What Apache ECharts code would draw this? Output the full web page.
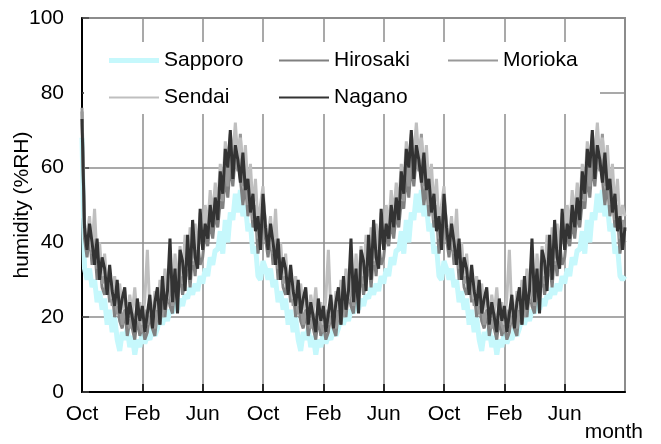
<!DOCTYPE html>
<html>
<head>
<meta charset="utf-8">
<title>humidity</title>
<script src="https://cdn.jsdelivr.net/npm/echarts@6/dist/echarts.min.js"></script>
<style>
  html, body { margin: 0; padding: 0; background: #fff; }
  #chart { width: 661px; height: 444px; }
</style>
</head>
<body>
<div id="chart"></div>
<script>
// samples every 1/6 month, starting at Oct 1, three years
const STEP = 6
const monthTicks = ['Oct', 'Feb', 'Jun', 'Oct', 'Feb', 'Jun', 'Oct', 'Feb', 'Jun']
const cities = ['Sapporo', 'Hirosaki', 'Morioka', 'Sendai', 'Nagano']

const sapporo = [
  68, 33, 30, 33, 28, 30, 24, 27, 22, 25, 18, 22, 16, 20, 14, 11, 16, 14, 17, 12, 15, 10, 14, 12,
  16, 13, 15, 14, 17, 15, 17, 20, 18, 21, 19, 22, 21, 24, 22, 25, 23, 26, 25, 28, 26, 29, 27, 31,
  29, 33, 31, 36, 34, 38, 38, 43, 37, 46, 40, 48, 46, 53, 48, 54, 47, 50, 43, 45, 37, 39, 31, 30,
  35, 33, 30, 33, 28, 30, 24, 27, 22, 25, 18, 22, 16, 20, 14, 11, 16, 14, 17, 12, 15, 10, 14, 12,
  16, 13, 15, 14, 17, 15, 17, 20, 18, 21, 19, 22, 21, 24, 22, 25, 23, 26, 25, 28, 26, 29, 27, 31,
  29, 33, 31, 36, 34, 38, 38, 43, 37, 46, 40, 48, 46, 53, 48, 54, 47, 50, 43, 45, 37, 39, 31, 30,
  35, 33, 30, 33, 28, 30, 24, 27, 22, 25, 18, 22, 16, 20, 14, 11, 16, 14, 17, 12, 15, 10, 14, 12,
  16, 13, 15, 14, 17, 15, 17, 20, 18, 21, 19, 22, 21, 24, 22, 25, 23, 26, 25, 28, 26, 29, 27, 31,
  29, 33, 31, 36, 34, 38, 38, 43, 37, 46, 40, 48, 46, 53, 48, 54, 47, 50, 43, 45, 37, 39, 31, 30,
  31
]
const hirosaki = [
  75, 41, 36, 42, 34, 39, 30, 35, 28, 26, 31, 24, 27, 20, 24, 19, 17, 22, 15, 19, 17, 14, 20, 15,
  18, 14, 16, 21, 17, 15, 22, 18, 24, 20, 27, 23, 21, 29, 25, 32, 26, 30, 35, 28, 37, 31, 40, 34,
  36, 43, 39, 46, 41, 48, 44, 51, 49, 58, 52, 61, 55, 63, 66, 57, 50, 56, 47, 52, 44, 48, 37, 42,
  50, 41, 36, 42, 34, 39, 30, 35, 28, 26, 31, 24, 27, 20, 24, 19, 17, 22, 15, 19, 17, 14, 20, 15,
  18, 14, 16, 21, 17, 15, 22, 18, 24, 20, 27, 23, 21, 29, 25, 32, 26, 30, 35, 28, 37, 31, 40, 34,
  36, 43, 39, 46, 41, 48, 44, 51, 49, 58, 52, 61, 55, 63, 66, 57, 50, 56, 47, 52, 44, 48, 37, 42,
  50, 41, 36, 42, 34, 39, 30, 35, 28, 26, 31, 24, 27, 20, 24, 19, 17, 22, 15, 19, 17, 14, 20, 15,
  18, 14, 16, 21, 17, 15, 22, 18, 24, 20, 27, 23, 21, 29, 25, 32, 26, 30, 35, 28, 37, 31, 40, 34,
  36, 43, 39, 46, 41, 48, 44, 51, 49, 58, 52, 61, 55, 63, 66, 57, 50, 56, 47, 52, 44, 48, 37, 42,
  40
]
const morioka = [
  76, 45, 39, 43, 37, 41, 33, 36, 29, 31, 26, 30, 23, 26, 21, 25, 18, 22, 20, 17, 23, 16, 21, 18,
  16, 22, 18, 20, 23, 17, 21, 25, 20, 28, 24, 30, 23, 32, 27, 35, 29, 34, 31, 39, 34, 41, 36, 44,
  39, 46, 42, 47, 44, 53, 47, 55, 51, 63, 55, 66, 58, 63, 59, 69, 55, 61, 50, 56, 46, 50, 41, 46,
  52, 45, 39, 43, 37, 41, 33, 36, 29, 31, 26, 30, 23, 26, 21, 25, 18, 22, 20, 17, 23, 16, 21, 18,
  16, 22, 18, 20, 23, 17, 21, 25, 20, 28, 24, 30, 23, 32, 27, 35, 29, 34, 31, 39, 34, 41, 36, 44,
  39, 46, 42, 47, 44, 53, 47, 55, 51, 63, 55, 66, 58, 63, 59, 69, 55, 61, 50, 56, 46, 50, 41, 46,
  52, 45, 39, 43, 37, 41, 33, 36, 29, 31, 26, 30, 23, 26, 21, 25, 18, 22, 20, 17, 23, 16, 21, 18,
  16, 22, 18, 20, 23, 17, 21, 25, 20, 28, 24, 30, 23, 32, 27, 35, 29, 34, 31, 39, 34, 41, 36, 44,
  39, 46, 42, 47, 44, 53, 47, 55, 51, 63, 55, 66, 58, 63, 59, 69, 55, 61, 50, 56, 46, 50, 41, 46,
  43
]
const sendai = [
  72, 44, 42, 47, 38, 49, 35, 40, 31, 37, 28, 33, 25, 31, 23, 29, 22, 27, 20, 26, 21, 28, 19, 24,
  18, 25, 38, 21, 20, 27, 22, 30, 24, 33, 25, 35, 27, 37, 29, 39, 31, 42, 33, 44, 35, 45, 38, 48,
  41, 50, 44, 54, 47, 56, 50, 61, 55, 67, 60, 69, 63, 72, 62, 68, 59, 66, 54, 61, 49, 57, 45, 50,
  55, 44, 42, 47, 38, 49, 35, 40, 31, 37, 28, 33, 25, 31, 23, 29, 22, 27, 20, 26, 21, 28, 19, 24,
  18, 25, 38, 21, 20, 27, 22, 30, 24, 33, 25, 35, 27, 37, 29, 39, 31, 42, 33, 44, 35, 45, 38, 48,
  41, 50, 44, 54, 47, 56, 50, 61, 55, 67, 60, 69, 63, 72, 62, 68, 59, 66, 54, 61, 49, 57, 45, 50,
  55, 44, 42, 47, 38, 49, 35, 40, 31, 37, 28, 33, 25, 31, 23, 29, 22, 27, 20, 26, 21, 28, 19, 24,
  18, 25, 38, 21, 20, 27, 22, 30, 24, 33, 25, 35, 27, 37, 29, 39, 31, 42, 33, 44, 35, 45, 38, 48,
  41, 50, 44, 54, 47, 56, 50, 61, 55, 67, 60, 69, 63, 72, 62, 68, 59, 66, 54, 61, 49, 57, 45, 50,
  47
]
const nagano = [
  73, 44, 38, 45, 40, 34, 41, 30, 36, 33, 26, 34, 27, 23, 30, 21, 25, 28, 18, 24, 20, 16, 25, 19,
  23, 16, 21, 26, 17, 24, 28, 18, 31, 22, 27, 41, 24, 33, 21, 38, 35, 27, 42, 30, 46, 36, 33, 49,
  38, 45, 41, 50, 44, 52, 46, 59, 53, 65, 60, 70, 57, 66, 62, 56, 64, 54, 57, 48, 53, 43, 47, 38,
  53, 44, 38, 45, 40, 34, 41, 30, 36, 33, 26, 34, 27, 23, 30, 21, 25, 28, 18, 24, 20, 16, 25, 19,
  23, 16, 21, 26, 17, 24, 28, 18, 31, 22, 27, 41, 24, 33, 21, 38, 35, 27, 42, 30, 46, 36, 33, 49,
  38, 45, 41, 50, 44, 52, 46, 59, 53, 65, 60, 70, 57, 66, 62, 56, 64, 54, 57, 48, 53, 43, 47, 38,
  53, 44, 38, 45, 40, 34, 41, 30, 36, 33, 26, 34, 27, 23, 30, 21, 25, 28, 18, 24, 20, 16, 25, 19,
  23, 16, 21, 26, 17, 24, 28, 18, 31, 22, 27, 41, 24, 33, 21, 38, 35, 27, 42, 30, 46, 36, 33, 49,
  38, 45, 41, 50, 44, 52, 46, 59, 53, 65, 60, 70, 57, 66, 62, 56, 64, 54, 57, 48, 53, 43, 47, 38,
  44
]

const values = [sapporo, hirosaki, morioka, sendai, nagano]
const colors = ['#c6f8fc', '#808080', '#999999', '#bfbfbf', '#333333']
const widths = [5, 3, 3, 3, 3]

const font = "'Liberation Sans', Arial, sans-serif"

const chart = echarts.init(document.getElementById('chart'))

// one legend block per entry so the columns line up like the original
const legendSpots = [
  { name: 'Sapporo', left: 109, row: 0 },
  { name: 'Hirosaki', left: 279, row: 0 },
  { name: 'Morioka', left: 448, row: 0 },
  { name: 'Sendai', left: 109, row: 1 },
  { name: 'Nagano', left: 279, row: 1 }
]
const legends = legendSpots.map(function (s) {
  const i = cities.indexOf(s.name)
  return {
    top: 50 + s.row * 37,
    left: s.left,
    padding: 0,
    icon: 'rect',
    itemWidth: 50,
    itemHeight: i === 0 ? 5 : 2,
    selectedMode: false,
    data: [{ name: s.name, itemStyle: { color: colors[i] } }],
    textStyle: { color: '#000', fontSize: 21, fontFamily: font, lineHeight: 21 }
  }
})

const option = {
  animation: false,
  backgroundColor: '#fff',
  grid: {
    left: 82,
    right: 36,
    top: 18,
    bottom: 52,
    containLabel: false,
    outerBoundsMode: 'none',
    show: true,
    borderColor: '#8c8c8c',
    borderWidth: 2
  },
  graphic: [
    {
      type: 'rect',
      z: 1,
      shape: { x: 84, y: 42, width: 516, height: 72 },
      style: { fill: '#fff' }
    }
  ],
  legend: legends,
  xAxis: {
    type: 'value',
    min: 0,
    max: 36,
    interval: 4,
    name: 'month',
    nameLocation: 'end',
    nameGap: 18,
    nameMoveOverlap: false,
    nameTextStyle: {
      color: '#000',
      fontSize: 21,
      fontFamily: font,
      align: 'right',
      verticalAlign: 'top',
      padding: [30, 0, 0, 0]
    },
    axisLine: { onZero: false, lineStyle: { color: '#000', width: 2 } },
    axisTick: { inside: true, length: 8, lineStyle: { color: '#000', width: 1.5 } },
    splitLine: { show: true, lineStyle: { color: '#8c8c8c', width: 1.5 } },
    axisLabel: {
      color: '#000',
      fontSize: 21,
      fontFamily: font,
      margin: 12,
      showMaxLabel: false,
      formatter: function (v) {
        return monthTicks[v / 4] || ''
      }
    }
  },
  yAxis: {
    type: 'value',
    min: 0,
    max: 100,
    interval: 20,
    name: 'humidity (%RH)',
    nameLocation: 'middle',
    nameGap: 49,
    nameMoveOverlap: false,
    nameTextStyle: { color: '#000', fontSize: 21, fontFamily: font },
    axisLine: { show: true, onZero: false, lineStyle: { color: '#000', width: 2 } },
    axisTick: { show: true, inside: true, length: 7, lineStyle: { color: '#444', width: 1.5 } },
    splitLine: { show: true, lineStyle: { color: '#8c8c8c', width: 1.5 } },
    axisLabel: { color: '#000', fontSize: 21, fontFamily: font, margin: 18 }
  },
  series: cities.map(function (name, i) {
    return {
      name: name,
      type: 'line',
      symbol: 'none',
      z: 2 + i,
      lineStyle: { color: colors[i], width: widths[i] },
      itemStyle: { color: colors[i] },
      data: values[i].map(function (v, k) {
        return [k / STEP, v]
      })
    }
  })
}

chart.setOption(option)
</script>
</body>
</html>
